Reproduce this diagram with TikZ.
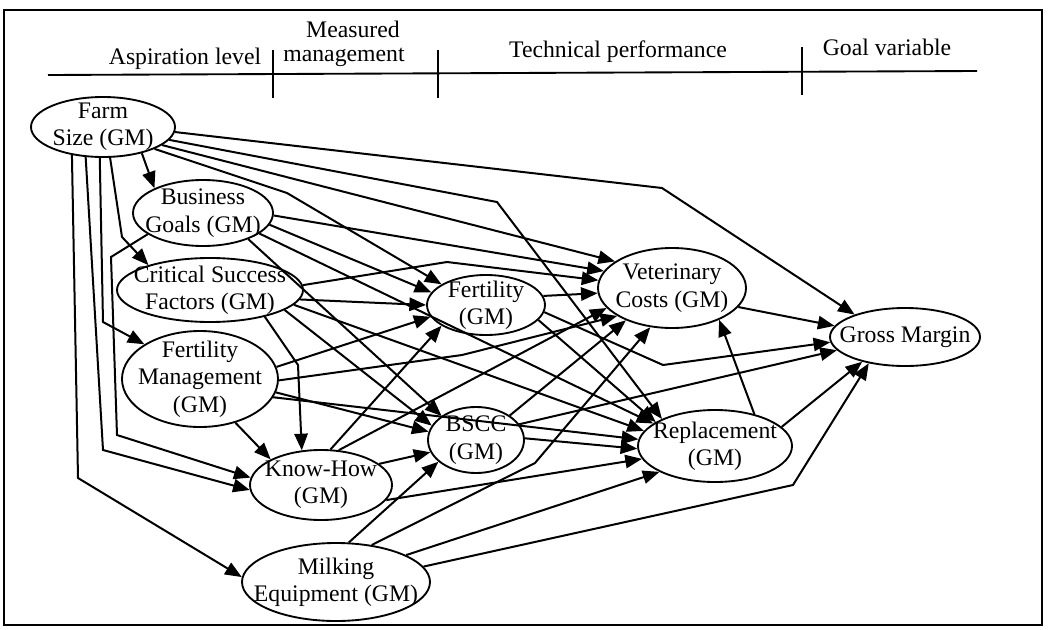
\documentclass[tikz,border=0pt]{standalone}
\usepackage{fontspec}
\setmainfont{Liberation Serif}
\usetikzlibrary{arrows.meta,shapes.geometric}
\begin{document}
\begin{tikzpicture}[x=0.75pt,y=-0.75pt,
  var/.style={ellipse,draw,line width=1.4pt,inner sep=-30pt,align=center,
    font=\fontsize{17.8}{20.5}\selectfont},
  edge/.style={line width=1.5pt,-{Triangle[length=12.5pt,width=10pt]}},
  head/.style={font=\fontsize{17.8}{20.5}\selectfont,inner sep=0pt},
  rule/.style={line width=1.4pt}]
\useasboundingbox (0,0) rectangle (1050,629);
\draw[rule] (4,10) rectangle (1042,625);

% column headings
\draw[rule] (48,75) -- (977,71);
\draw[rule] (273,50) -- (273,98);
\draw[rule] (438,50) -- (438,98);
\draw[rule] (802,47) -- (802,95);
\node[head] (h1) at (185,59) {Aspiration level};
\node[head] (h2) at (353,29) {Measured};
\node[head] (h3) at (344,57) {management};
\node[head] (h4) at (618,52) {Technical performance};
\node[head] (h5) at (887,47) {Goal variable};

% variables
\node[var,minimum width=108pt,minimum height=45pt] (FS) at (103,127) {Farm\\Size (GM)};
\node[var,minimum width=105pt,minimum height=49.5pt] (BG) at (203,213) {Business\\Goals (GM)};
\node[var,minimum width=139.5pt,minimum height=48pt] (CSF) at (210,290) {Critical Success\\Factors (GM)};
\node[var,minimum width=117pt,minimum height=72pt] (FM) at (200,379) {Fertility\\Management\\(GM)};
\node[var,minimum width=106.5pt,minimum height=52.5pt] (KH) at (321,485) {Know-How\\(GM)};
\node[var,minimum width=141pt,minimum height=58.5pt] (ME) at (336,582) {Milking\\Equipment (GM)};
\node[var,minimum width=88.5pt,minimum height=45pt] (Fert) at (486,305) {Fertility\\(GM)};
\node[var,minimum width=72pt,minimum height=49.5pt] (BSCC) at (476,440) {BSCC\\(GM)};
\node[var,minimum width=111pt,minimum height=60pt] (VC) at (672,288) {Veterinary\\Costs (GM)};
\node[var,minimum width=115.5pt,minimum height=54pt] (Repl) at (715,446) {Replacement\\(GM)};
\node[var,minimum width=112.5pt,minimum height=43.5pt] (GM) at (905,337) {Gross Margin};

% Farm Size
\draw[edge] (FS.-34) -- (BG.153);
\draw[edge] (FS.-77) -- (122,237) -- (CSF.158);
\draw[edge] (FS.-96) -- (103,322) -- (FM.148);
\draw[edge] (FS.-120) -- (103,450) -- (KH.184);
\draw[edge] (FS.-138) -- (78,478) -- (ME.177);
\draw[edge] (FS.-4) -- (662,188) -- (GM.156);
\draw[edge] (FS.-11) -- (497,202) -- (Repl.153);
\draw[edge] (FS.-17) -- (VC.155);
\draw[edge] (FS.-23) -- (287,193) -- (Fert.155);

% Business Goals
\draw[edge] (BG.-2) -- (VC.166);
\draw[edge] (BG.-10) -- (Fert.167);
\draw[edge] (BG.-30) -- (BSCC.145);
\draw[edge] (BG.-20) -- (Repl.160);
\draw[edge] (BG.-159) -- (111,257) -- (117,435) -- (KH.174);

% Critical Success Factors
\draw[edge] (CSF.-6) -- (Fert.180);
\draw[edge] (CSF.3) -- (447,262) -- (VC.174);
\draw[edge] (CSF.-26) -- (298,365) -- (KH.119);
\draw[edge] (CSF.-15) -- (BSCC.162);
\draw[edge] (CSF.-10) -- (Repl.168);

% Fertility Management
\draw[edge] (FM.9) -- (Fert.192);
\draw[edge] (FM.-1) -- (462,355) -- (VC.207);
\draw[edge] (FM.-10) -- (BSCC.170);
\draw[edge] (FM.-51) -- (KH.153);
\draw[edge] (FM.-14) -- (Repl.175);

% Know-How
\draw[edge] (KH.75) -- (Fert.205);
\draw[edge] (KH.63) -- (VC.197);
\draw[edge] (KH.20) -- (BSCC.195);
\draw[edge] (KH.-13) -- (Repl.190);

% Milking Equipment
\draw[edge] (ME.72) -- (BSCC.210);
\draw[edge] (ME.46) -- (535,463) -- (VC.241);
\draw[edge] (ME.21) -- (Repl.205);
\draw[edge] (ME.10) -- (793,485) -- (GM.216);

% Fertility
\draw[edge] (Fert.9) -- (VC.184);
\draw[edge] (Fert.-16) -- (Repl.158);
\draw[edge] (Fert.-7) -- (663,365) -- (GM.184);

% BSCC
\draw[edge] (BSCC.36) -- (VC.215);
\draw[edge] (BSCC.2) -- (Repl.182);
\draw[edge] (BSCC.20) -- (GM.191);

% Veterinary Costs and Replacement
\draw[edge] (VC.-16) -- (GM.171);
\draw[edge] (Repl.39) -- (VC.-34);
\draw[edge] (Repl.16) -- (GM.210);
\end{tikzpicture}
\end{document}
